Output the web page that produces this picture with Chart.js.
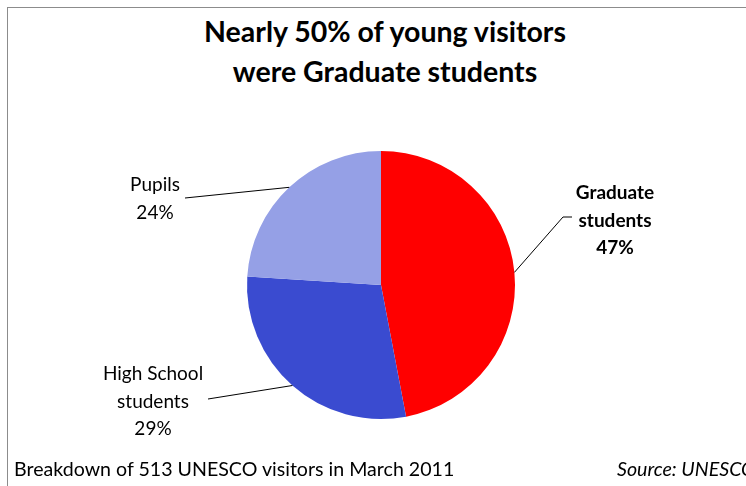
<!DOCTYPE html>
<html>
<head>
<meta charset="utf-8">
<script src="https://cdn.jsdelivr.net/npm/chart.js@4.4.1/dist/chart.umd.min.js"></script>
<style>
  html, body { margin: 0; padding: 0; background: #fff; overflow: hidden; }
  #wrap { position: relative; width: 746px; height: 486px; overflow: hidden; }
  #frame { position: absolute; left: 7px; top: 7px; width: 800px; height: 600px; border: 1px solid #8c8c8c; }
  #title { position: absolute; left: 0; top: 11px; width: 770px; text-align: center;
           font: bold 28.5px Lato, sans-serif; line-height: 40px; color: #000; }
  #note { position: absolute; left: 14px; top: 457px; font: 19.6px Lato, sans-serif; color: #000; }
  #source { position: absolute; left: 617px; top: 457px; font: italic 19.6px Lato, sans-serif; color: #000; white-space: nowrap; }
  canvas { position: absolute; left: 0; top: 0; }
</style>
</head>
<body>
<div id="wrap">
  <div id="frame"></div>
  <div id="title">Nearly 50% of young visitors<br>were Graduate students</div>
  <canvas id="pie" width="746" height="486"></canvas>
  <div id="note">Breakdown of 513 UNESCO visitors in March 2011</div>
  <div id="source">Source: UNESCO</div>
</div>
<script>
// visitor groups, share of 513 visitors (%)
const categories = ['Graduate students', 'High School students', 'Pupils'];
const shares = [47, 29, 24];
const sliceColors = ['#ff0000', '#3a4bd0', '#95a0e6'];

// label text lines and where each label block sits
const labelLines = [['Graduate', 'students'], ['High School', 'students'], ['Pupils']];
const labelBold = [true, false, false];
const labelAnchor = [
  { x: 615, y: 193, elbow: { x: 572, y: 217 }, join: { x: 563, y: 217 } },
  { x: 153, y: 374, elbow: { x: 208, y: 399 } },
  { x: 155, y: 185, elbow: { x: 185, y: 198 } },
];

const calloutPlugin = {
  id: 'callouts',
  afterDatasetsDraw(chart) {
    const ctx = chart.ctx;
    const meta = chart.getDatasetMeta(0);
    ctx.save();
    meta.data.forEach((arc, i) => {
      const mid = (arc.startAngle + arc.endAngle) / 2;
      const ex = arc.x + Math.cos(mid) * arc.outerRadius;
      const ey = arc.y + Math.sin(mid) * arc.outerRadius;
      const a = labelAnchor[i];
      ctx.strokeStyle = '#000';
      ctx.lineWidth = 1;
      ctx.beginPath();
      ctx.moveTo(ex, ey);
      if (a.join) ctx.lineTo(a.join.x, a.join.y);
      ctx.lineTo(a.elbow.x, a.elbow.y);
      ctx.stroke();

      const lines = labelLines[i].concat([shares[i] + '%']);
      ctx.font = (labelBold[i] ? 'bold ' : '') + '19px Lato, sans-serif';
      ctx.fillStyle = '#000';
      ctx.textAlign = 'center';
      ctx.textBaseline = 'middle';
      lines.forEach((t, k) => ctx.fillText(t, a.x, a.y + k * 27.5));
    });
    ctx.restore();
  }
};

new Chart(document.getElementById('pie'), {
  type: 'pie',
  data: {
    labels: categories,
    datasets: [{
      data: shares,
      backgroundColor: sliceColors,
      borderWidth: 0,
    }],
  },
  options: {
    responsive: false,
    animation: false,
    layout: { padding: { left: 247, right: 231, top: 151, bottom: 67 } },
    plugins: {
      legend: { display: false },
      tooltip: { enabled: false },
    },
  },
  plugins: [calloutPlugin],
});
</script>
</body>
</html>
